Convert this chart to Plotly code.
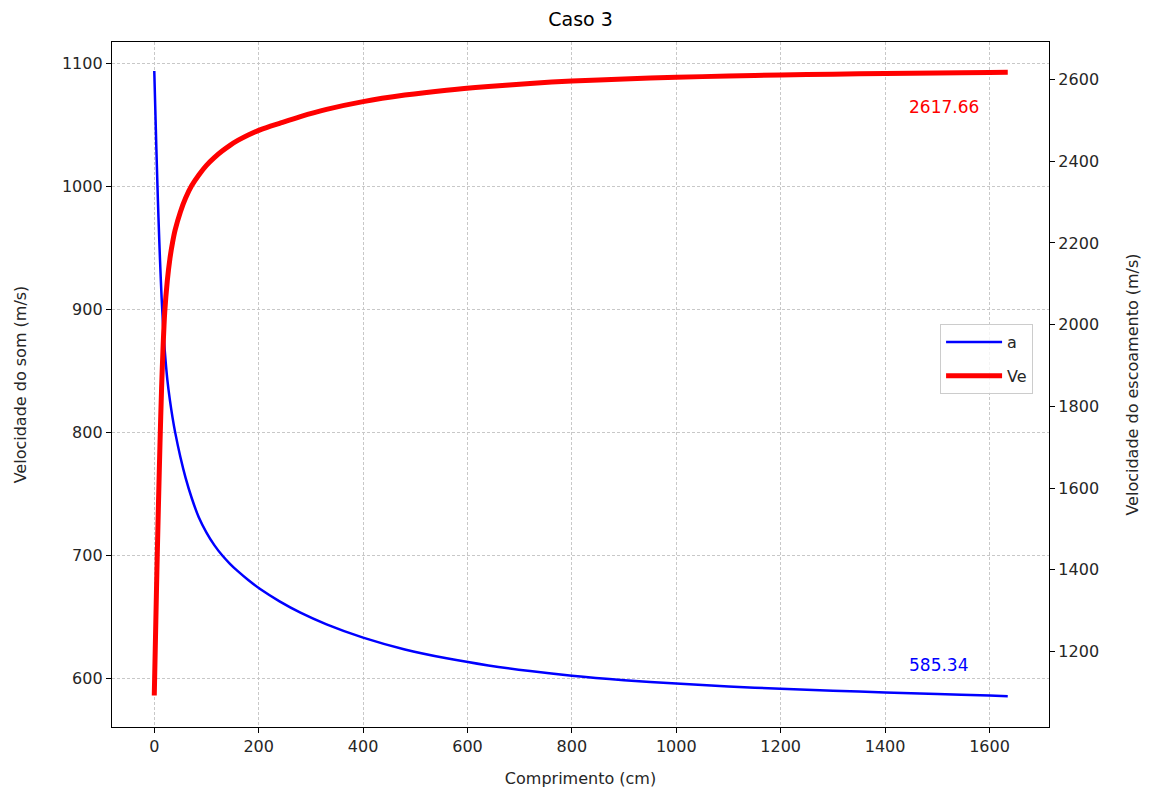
import plotly.graph_objects as go

# Data
comprimento = [0, 2, 4, 6, 8, 11, 14, 17, 20, 25, 30, 35, 40, 50, 60, 72, 85, 100, 115, 130,
               145, 160, 180, 205, 240, 280, 330, 400, 480, 560, 640, 720, 800, 900, 1000,
               1100, 1200, 1300, 1400, 1500, 1600, 1635]
vel_som = [1094, 1062, 1031, 1002, 975, 940, 910, 886, 867, 843, 826, 812, 800, 780, 763,
           746.2, 731.2, 718.5, 708.3, 700, 693.1, 687.1, 679.9, 671.9, 662.5, 653.3, 643.8,
           633, 623.4, 616.2, 610.4, 605.8, 602, 598.4, 595.6, 593.3, 591.4, 589.8, 588.4,
           587.1, 585.9, 585.34]
vel_esc = [1092, 1215, 1337, 1452, 1560, 1712, 1845, 1950, 2030, 2108, 2162, 2201, 2232, 2276,
           2310, 2341, 2366, 2390, 2409, 2425, 2439, 2451, 2464.5, 2478, 2493, 2509.5, 2527,
           2546, 2562, 2574, 2583, 2590.5, 2596.5, 2601.5, 2605.5, 2608.8, 2611.3, 2613.3,
           2615, 2616.3, 2617.4, 2617.66]

x_ticks = [0, 200, 400, 600, 800, 1000, 1200, 1400, 1600]
y1_ticks = [600, 700, 800, 900, 1000, 1100]
y2_ticks = [1200, 1400, 1600, 1800, 2000, 2200, 2400, 2600]

label_a = "585.34"
label_ve = "2617.66"

FONT = "DejaVu Sans"
TXT = "#262626"

fig = go.Figure()
fig.add_trace(go.Scatter(x=comprimento, y=vel_som, mode="lines", name="a", legendgroup="g1",
                         line=dict(color="blue", width=2.5, shape="spline", smoothing=0.8),
                         yaxis="y"))
fig.add_trace(go.Scatter(x=comprimento, y=vel_esc, mode="lines", name="Ve", legendgroup="g2",
                         line=dict(color="red", width=5, shape="spline", smoothing=0.8),
                         yaxis="y2"))

fig.add_annotation(x=1442, y=611, xref="x", yref="y", text=label_a, showarrow=False,
                   xanchor="left", yanchor="middle", font=dict(color="blue", size=17, family=FONT))
fig.add_annotation(x=1442, y=2532, xref="x", yref="y2", text=label_ve, showarrow=False,
                   xanchor="left", yanchor="middle", font=dict(color="red", size=17, family=FONT))

axis_common = dict(showline=True, linecolor="black", linewidth=1.3, ticks="outside",
                   ticklen=5, tickwidth=1.2, tickcolor="black", zeroline=False,
                   automargin=False, tickfont=dict(size=16, family=FONT, color=TXT))

fig.update_layout(
    width=1152, height=792,
    margin=dict(l=112, r=103, t=42, b=65),
    paper_bgcolor="white", plot_bgcolor="white",
    font=dict(family=FONT, color=TXT),
    title=dict(text="Caso 3", x=0.5, xref="paper", xanchor="center", y=0.975, yanchor="middle",
               font=dict(size=19, family=FONT, color="black")),
    xaxis=dict(range=[-81, 1714], tickvals=x_ticks, mirror=True,
               showgrid=True, gridcolor="#c8c8c8", gridwidth=0.8, griddash="3px,2px",
               title=dict(text="Comprimento (cm)", font=dict(size=16, family=FONT, color=TXT), standoff=17),
               **axis_common),
    yaxis=dict(range=[560.3, 1117.6], tickvals=y1_ticks, mirror=True,
               showgrid=True, gridcolor="#c8c8c8", gridwidth=0.8, griddash="3px,2px",
               title=dict(text="Velocidade do som (m/s)", font=dict(size=16, family=FONT, color=TXT), standoff=31),
               **axis_common),
    yaxis2=dict(range=[1015, 2692], tickvals=y2_ticks, overlaying="y", side="right",
                showgrid=False,
                title=dict(text="Velocidade do escoamento (m/s)", font=dict(size=16, family=FONT, color=TXT), standoff=28),
                **axis_common),
    legend=dict(x=0.983, y=0.537, xanchor="right", yanchor="middle",
                bgcolor="rgba(255,255,255,0.8)", bordercolor="#cccccc", borderwidth=1,
                font=dict(size=16, family=FONT, color=TXT), traceorder="grouped",
                tracegroupgap=10, itemwidth=56),
    showlegend=True,
)

fig.write_html("out.html")
